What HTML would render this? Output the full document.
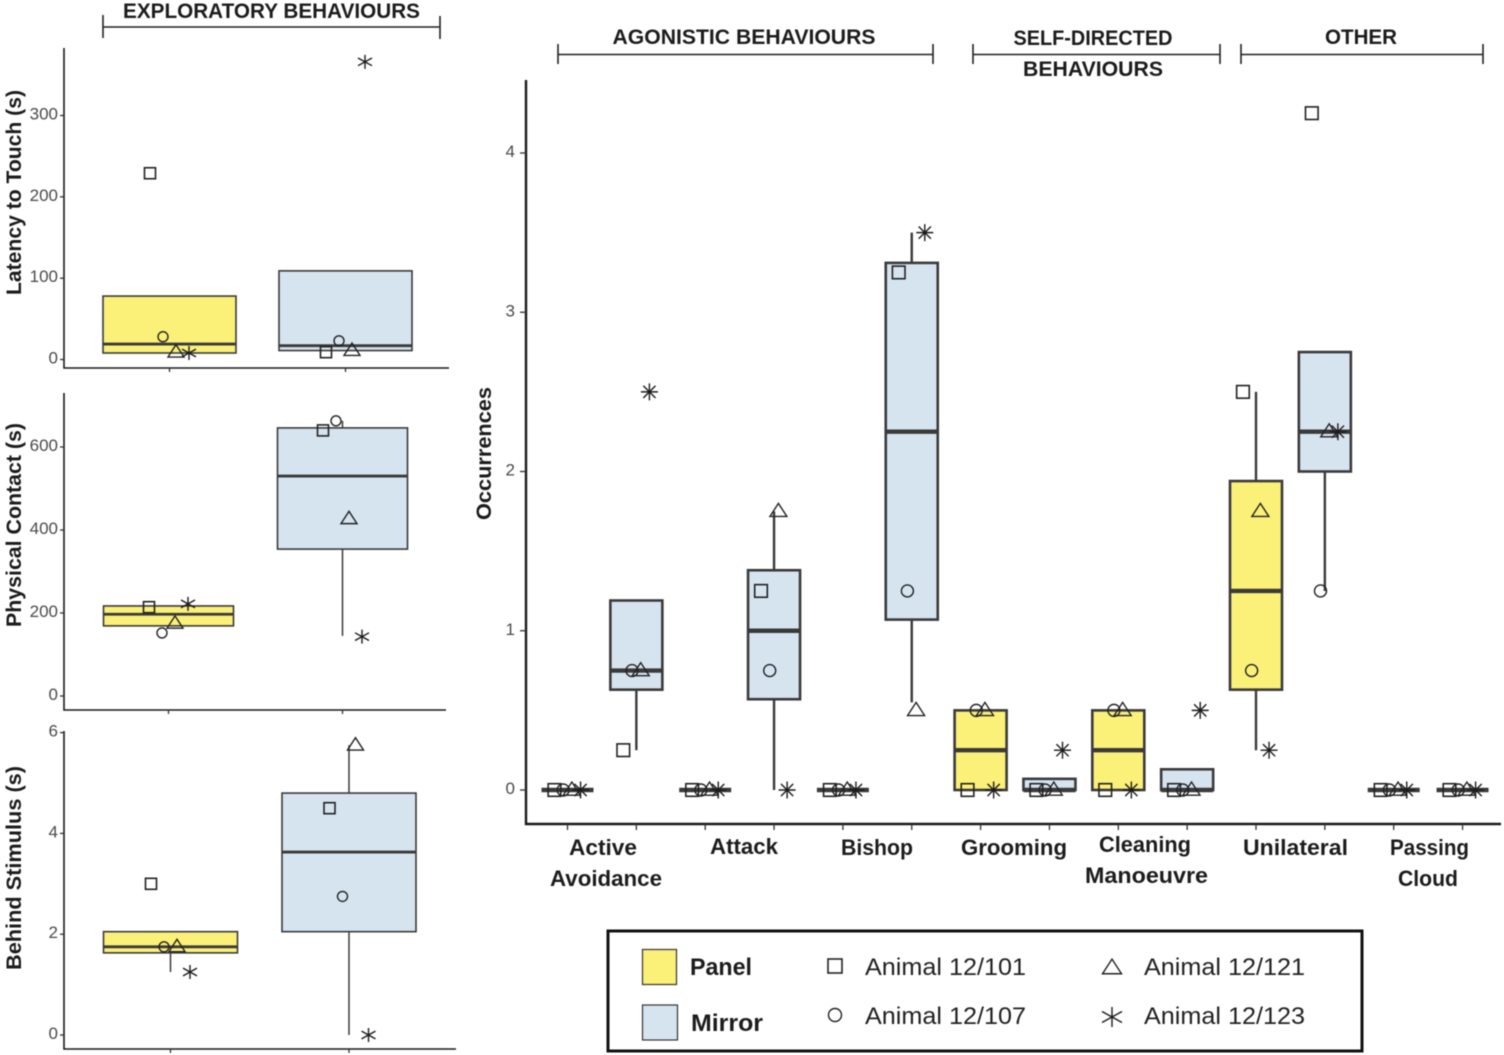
<!DOCTYPE html>
<html lang="en">
<head>
<meta charset="utf-8">
<title>Behaviour box plots</title>
<style>
html,body{margin:0;padding:0;background:#fff;width:1504px;height:1055px;overflow:hidden}
svg{display:block;font-family:"Liberation Sans",sans-serif;filter:blur(0.4px)}
.hdr{font-weight:700;font-size:21px;fill:#1c1c1c}
.cat{font-weight:700;font-size:22px;fill:#1c1c1c}
.ytitle{font-weight:700;font-size:21px;fill:#1c1c1c}
.tick{font-size:17px;fill:#4a4a4a}
.leg{font-size:24px;fill:#222}
.legb{font-size:24px;font-weight:700;fill:#1c1c1c}
</style>
</head>
<body>
<svg id="chart" xmlns="http://www.w3.org/2000/svg" width="1504" height="1055" viewBox="0 0 1504 1055">
  <rect width="1504" height="1055" fill="#fff"/>

  <g>
    <text class="hdr" x="271.5" y="18" text-anchor="middle" textLength="297" lengthAdjust="spacingAndGlyphs">EXPLORATORY BEHAVIOURS</text>
    <path d="M103 15V38M103 27H440M440 16V39" fill="none" stroke="#222" stroke-width="1.6"/>
  </g>
  <g>
    <text class="hdr" x="744" y="44" text-anchor="middle" textLength="263" lengthAdjust="spacingAndGlyphs">AGONISTIC BEHAVIOURS</text>
    <path d="M558 44V64M558 54.500H933M933 44V64" fill="none" stroke="#222" stroke-width="1.6"/>
  </g>
  <g>
    <text class="hdr" x="1093" y="45" text-anchor="middle" textLength="159" lengthAdjust="spacingAndGlyphs">SELF-DIRECTED</text>
    <text class="hdr" x="1093" y="76" text-anchor="middle" textLength="140" lengthAdjust="spacingAndGlyphs">BEHAVIOURS</text>
    <path d="M973 44V64M973 54.500H1220M1220 44V64" fill="none" stroke="#222" stroke-width="1.6"/>
  </g>
  <g>
    <text class="hdr" x="1361" y="44" text-anchor="middle" textLength="72" lengthAdjust="spacingAndGlyphs">OTHER</text>
    <path d="M1241 44V64M1241 54.500H1483M1483 44V64" fill="none" stroke="#222" stroke-width="1.6"/>
  </g>

  <g>
    <text class="ytitle" transform="translate(21 192.500) rotate(-90)" text-anchor="middle" textLength="205" lengthAdjust="spacingAndGlyphs">Latency to Touch (s)</text>
    <text class="ytitle" transform="translate(21 525) rotate(-90)" text-anchor="middle" textLength="204" lengthAdjust="spacingAndGlyphs">Physical Contact (s)</text>
    <text class="ytitle" transform="translate(21 868) rotate(-90)" text-anchor="middle" textLength="204" lengthAdjust="spacingAndGlyphs">Behind Stimulus (s)</text>
    <text class="ytitle" transform="translate(491 453.500) rotate(-90)" text-anchor="middle" textLength="133" lengthAdjust="spacingAndGlyphs">Occurrences</text>
  </g>

  <g>
    <text class="cat" x="603" y="855" text-anchor="middle" textLength="68" lengthAdjust="spacingAndGlyphs">Active</text>
    <text class="cat" x="606" y="886" text-anchor="middle" textLength="112" lengthAdjust="spacingAndGlyphs">Avoidance</text>
    <text class="cat" x="744" y="854" text-anchor="middle" textLength="68" lengthAdjust="spacingAndGlyphs">Attack</text>
    <text class="cat" x="877" y="855" text-anchor="middle" textLength="72" lengthAdjust="spacingAndGlyphs">Bishop</text>
    <text class="cat" x="1014" y="855" text-anchor="middle" textLength="106" lengthAdjust="spacingAndGlyphs">Grooming</text>
    <text class="cat" x="1145" y="852" text-anchor="middle" textLength="92" lengthAdjust="spacingAndGlyphs">Cleaning</text>
    <text class="cat" x="1146.500" y="883" text-anchor="middle" textLength="123" lengthAdjust="spacingAndGlyphs">Manoeuvre</text>
    <text class="cat" x="1295.500" y="855" text-anchor="middle" textLength="105" lengthAdjust="spacingAndGlyphs">Unilateral</text>
    <text class="cat" x="1429.500" y="855" text-anchor="middle" textLength="79" lengthAdjust="spacingAndGlyphs">Passing</text>
    <text class="cat" x="1428" y="886" text-anchor="middle" textLength="60" lengthAdjust="spacingAndGlyphs">Cloud</text>
  </g>

  <g>
    <rect x="608" y="931" width="754" height="120" fill="#fff" stroke="#111" stroke-width="3"/>
    <rect x="642.500" y="949.500" width="34" height="35" fill="#fbf078" stroke="#333" stroke-width="1.200"/>
    <rect x="642.500" y="1005" width="35" height="35" fill="#d6e4f0" stroke="#333" stroke-width="1.200"/>
    <text class="legb" x="690" y="975" textLength="62" lengthAdjust="spacingAndGlyphs">Panel</text>
    <text class="legb" x="691" y="1031" textLength="72" lengthAdjust="spacingAndGlyphs">Mirror</text>
    <text class="leg" x="865" y="975" textLength="161" lengthAdjust="spacingAndGlyphs">Animal 12/101</text>
    <text class="leg" x="865" y="1024" textLength="161" lengthAdjust="spacingAndGlyphs">Animal 12/107</text>
    <text class="leg" x="1144" y="975" textLength="161" lengthAdjust="spacingAndGlyphs">Animal 12/121</text>
    <text class="leg" x="1144" y="1024" textLength="161" lengthAdjust="spacingAndGlyphs">Animal 12/123</text>
  </g>
</svg>

<script>
// ---------- main chart data (occurrences) ----------
const mainCategories = ['Active Avoidance','Active Avoidance','Attack','Attack','Bishop','Bishop','Grooming','Grooming','Cleaning Manoeuvre','Cleaning Manoeuvre','Unilateral','Unilateral','Passing Cloud','Passing Cloud'];
const mainConditions = ['Panel','Mirror','Panel','Mirror','Panel','Mirror','Panel','Mirror','Panel','Mirror','Panel','Mirror','Panel','Mirror'];
const mainTicks = [0,1,2,3,4];
const mainQ1 = [0,0.63,0,0.57,0,1.07,0,0,0,0,0.63,2,0,0];
const mainMedian = [0,0.75,0,1,0,2.25,0.25,0,0.25,0,1.25,2.25,0,0];
const mainQ3 = [0,1.19,0,1.38,0,3.31,0.5,0.07,0.5,0.13,1.94,2.75,0,0];
const mainWhiskerLow = [0,0.25,0,0,0,0.55,0,0,0,0,0.25,1.25,0,0];
const mainWhiskerHigh = [0,1.19,0,1.75,0,3.5,0.5,0.07,0.5,0.13,2.5,2.75,0,0];
const mainAnimal101 = [0,0.25,0,1.25,0,3.25,0,0,0,0,2.5,4.25,0,0];
const mainAnimal107 = [0,0.75,0,0.75,0,1.25,0.5,0,0.5,0,0.75,1.25,0,0];
const mainAnimal121 = [0,0.75,0,1.75,0,0.5,0.5,0,0.5,0,1.75,2.25,0,0];
const mainAnimal123 = [0,2.5,0,0,0,3.5,0,0.25,0,0.5,0.25,2.25,0,0];

// ---------- latency to touch ----------
const latencyConditions = ['Panel','Mirror'];
const latencyTicks = [0,100,200,300];
const latencyQ1 = [8,11];
const latencyMedian = [19,17];
const latencyQ3 = [78,109];
const latencyWhiskerLow = [8,11];
const latencyWhiskerHigh = [78,109];
const latencyAnimal101 = [229,9];
const latencyAnimal107 = [28,23];
const latencyAnimal121 = [9,11];
const latencyAnimal123 = [8,366];

// ---------- physical contact ----------
const contactConditions = ['Panel','Mirror'];
const contactTicks = [0,200,400,600];
const contactQ1 = [169,354];
const contactMedian = [197,530];
const contactQ3 = [217,646];
const contactWhiskerLow = [169,145];
const contactWhiskerHigh = [217,663];
const contactAnimal101 = [214,640];
const contactAnimal107 = [152,663];
const contactAnimal121 = [175,427];
const contactAnimal123 = [222,143];

// ---------- behind stimulus ----------
const behindConditions = ['Panel','Mirror'];
const behindTicks = [0,2,4,6];
const behindQ1 = [1.63,2.05];
const behindMedian = [1.75,3.63];
const behindQ3 = [2.05,4.8];
const behindWhiskerLow = [1.25,0];
const behindWhiskerHigh = [2.05,5.75];
const behindAnimal101 = [3,4.5];
const behindAnimal107 = [1.75,2.75];
const behindAnimal121 = [1.75,5.75];
const behindAnimal123 = [1.25,0];

// ---------- axis functions ----------
const mainX = i => 567.5 + i * 68.85;
const mainY = v => 790 - v * 159.25;
const latencyX = i => 169.5 + i * 176;
const latencyY = v => 359.5 - v * 0.8133;
const contactX = i => 168.5 + i * 174;
const contactY = v => 696 - v * 0.415;
const behindX = i => 170.5 + i * 178.5;
const behindY = v => 1035 - v * 50.4;

const NS = 'http://www.w3.org/2000/svg';
const root = document.getElementById('chart');
const INK = '#3a3a3a';
const FILL = {Panel:'#fbf078', Mirror:'#d6e4f0'};

function make(tag, parent, attrs){
  const el = document.createElementNS(NS, tag);
  for (const k in attrs) el.setAttribute(k, attrs[k]);
  parent.appendChild(el);
  return el;
}

function squareMark(g, x, y, s){
  const el = make('rect', g, {x:x-s, y:y-s, width:2*s, height:2*s, fill:'none', stroke:'#222', 'stroke-width':1.6});
  
  
}
function circleMark(g, x, y, s){
  const el = make('circle', g, {cx:x, cy:y, r:s, fill:'none', stroke:'#222', 'stroke-width':1.4});
  
  
}
function triangleMark(g, x, y, s){
  const h = s * 1.1;
  const el = make('path', g, {d:`M${x-s} ${y+h*0.55}L${x} ${y-h*0.85}L${x+s} ${y+h*0.55}Z`, fill:'none', stroke:'#222', 'stroke-width':1.4});
  
  
}
function starMark(g, x, y, s, eightArm){
  const d = s * 0.72;
  let p = `M${x} ${y-s}V${y+s}M${x-s} ${y-s*0.55}L${x+s} ${y+s*0.55}M${x-s} ${y+s*0.55}L${x+s} ${y-s*0.55}`;
  if (eightArm) p = `M${x} ${y-s}V${y+s}M${x-s} ${y}H${x+s}M${x-d} ${y-d}L${x+d} ${y+d}M${x-d} ${y+d}L${x+d} ${y-d}`;
  const el = make('path', g, {d:p, fill:'none', stroke:'#1c1c1c', 'stroke-width':1.4});
  
  
}

function drawAxes(name, x0, top, bottom, right, yFn, ticks, xFn, count, w, tickLen, labelGap){
  const g = make('g', root, {});
  
  
  make('path', g, {d:`M${x0} ${top}V${bottom}H${right}`, fill:'none', stroke:'#1a1a1a', 'stroke-width':w});
  ticks.forEach(t => {
    const y = yFn(t);
    make('path', g, {d:`M${x0-tickLen} ${y}H${x0}`, stroke:'#333', 'stroke-width':1.3});
    const label = make('text', g, {x:x0-tickLen-labelGap, y:y+4, 'text-anchor':'end', class:'tick'});
    label.textContent = t;
    
    
  });
  for (let i = 0; i < count; i++){
    make('path', g, {d:`M${xFn(i)} ${bottom}v${tickLen}`, stroke:'#333', 'stroke-width':1.3});
  }
}

function drawBoxes(name, xFn, yFn, conditions, q1, med, q3, lo, hi, a101, a107, a121, a123, o){
  conditions.forEach((cond, i) => {
    const g = make('g', root, {});
    
    
    const cx = xFn(i), half = o.boxWidth / 2;
    const yQ1 = yFn(q1[i]), yQ3 = yFn(q3[i]);
    make('path', g, {d:`M${cx} ${yQ1}V${yFn(lo[i])}M${cx} ${yQ3}V${yFn(hi[i])}`, fill:'none', stroke:INK, 'stroke-width':o.whisker});
    make('rect', g, {x:cx-half, y:yQ3, width:o.boxWidth, height:yQ1-yQ3, fill:FILL[cond], stroke:INK, 'stroke-width':o.stroke});
    const yM = yFn(med[i]);
    make('path', g, {d:`M${cx-half} ${yM}H${cx+half}`, stroke:INK, 'stroke-width':o.median});
    const off = k => (k - 1.5) * o.spread;
    squareMark(g, cx + off(0), yFn(a101[i]), o.square);
    circleMark(g, cx + off(1), yFn(a107[i]), o.circle);
    triangleMark(g, cx + off(2), yFn(a121[i]), o.triangle);
    starMark(g, cx + off(3), yFn(a123[i]), o.star, o.eightArm);
  });
}

const smallStyle = {boxWidth:133, stroke:1.6, whisker:1.5, median:2.8, spread:13, square:5.5, circle:5, triangle:8, star:7, eightArm:false};

drawAxes('latency', 64, 48, 368, 449, latencyY, latencyTicks, latencyX, 2, 1.6, 4, 2);
drawBoxes('latency', latencyX, latencyY, latencyConditions, latencyQ1, latencyMedian, latencyQ3, latencyWhiskerLow, latencyWhiskerHigh, latencyAnimal101, latencyAnimal107, latencyAnimal121, latencyAnimal123, smallStyle);

drawAxes('contact', 64, 393, 710, 446, contactY, contactTicks, contactX, 2, 1.6, 4, 2);
drawBoxes('contact', contactX, contactY, contactConditions, contactQ1, contactMedian, contactQ3, contactWhiskerLow, contactWhiskerHigh, contactAnimal101, contactAnimal107, contactAnimal121, contactAnimal123, Object.assign({}, smallStyle, {boxWidth:130}));

drawAxes('behind', 64, 731, 1049, 456, behindY, behindTicks, behindX, 2, 1.6, 4, 2);
drawBoxes('behind', behindX, behindY, behindConditions, behindQ1, behindMedian, behindQ3, behindWhiskerLow, behindWhiskerHigh, behindAnimal101, behindAnimal107, behindAnimal121, behindAnimal123, Object.assign({}, smallStyle, {boxWidth:134}));

drawAxes('occurrences', 526, 80, 824, 1501, mainY, mainTicks, mainX, mainCategories.length, 2.4, 6, 5);
drawBoxes('occurrences', mainX, mainY, mainConditions, mainQ1, mainMedian, mainQ3, mainWhiskerLow, mainWhiskerHigh, mainAnimal101, mainAnimal107, mainAnimal121, mainAnimal123, {boxWidth:52, stroke:2.6, whisker:2.4, median:4.4, spread:8.7, square:6.3, circle:6, triangle:8.5, star:8.5, eightArm:true});

// legend glyphs
const legendGroup = make('g', root, {});


squareMark(legendGroup, 835, 966, 7);
circleMark(legendGroup, 835, 1015, 6.5);
triangleMark(legendGroup, 1112, 968, 9.5);
starMark(legendGroup, 1112, 1017, 10, false);
</script>
</body>
</html>
